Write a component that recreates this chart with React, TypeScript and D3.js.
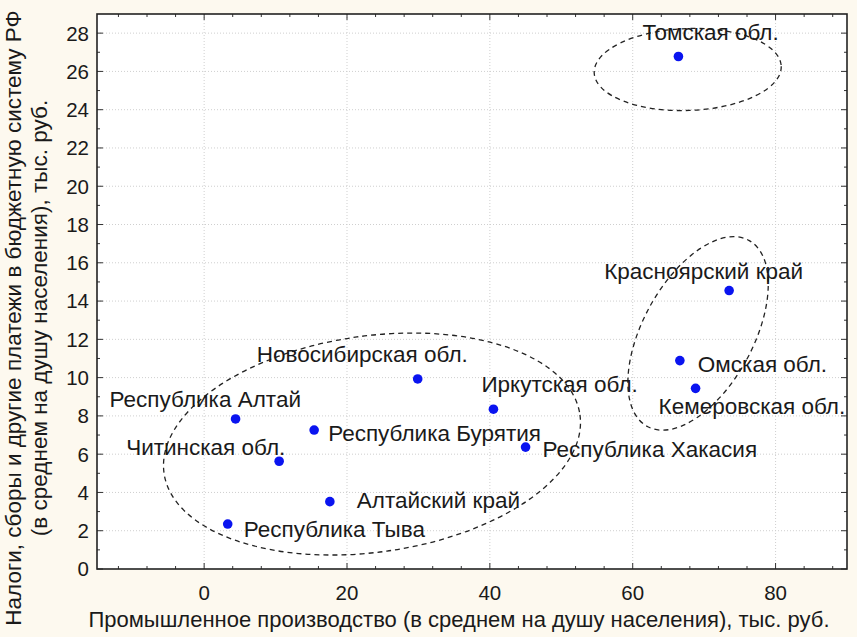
import { useEffect, useRef } from 'react'
import * as d3 from 'd3'

// regions of Siberian federal district
const regions = [
  'Томская обл.',
  'Красноярский край',
  'Омская обл.',
  'Кемеровская обл.',
  'Новосибирская обл.',
  'Иркутская обл.',
  'Республика Алтай',
  'Республика Бурятия',
  'Республика Хакасия',
  'Читинская обл.',
  'Алтайский край',
  'Республика Тыва',
]
// industrial production per capita, thousand rub.
const production = [66.4, 73.5, 66.6, 68.8, 29.9, 40.5, 4.4, 15.4, 45.0, 10.5, 17.6, 3.3]
// taxes per capita, thousand rub.
const taxes = [26.78, 14.55, 10.89, 9.44, 9.93, 8.35, 7.84, 7.26, 6.37, 5.63, 3.52, 2.35]

// label offset from its point, px [dx, dy to baseline]
const labelOffsets: [number, number][] = [
  [-36, -16], [-125, -12], [18, 11], [-37, 26], [-161, -17], [-12, -17],
  [-126, -12], [14, 11], [17, 10], [-153, -6], [27, 6], [16, 13],
]

const xTicks = [0, 20, 40, 60, 80]
const yTicks = [0, 2, 4, 6, 8, 10, 12, 14, 16, 18, 20, 22, 24, 26, 28]

// cluster outlines: centre and semi-axes in data units, rotation in degrees
const clusters = [
  { cx: 23.5, cy: 6.53, rx: 29.4, ry: 5.65, angle: -8 },
  { cx: 67.7, cy: 26.1, rx: 13.1, ry: 2.14, angle: -2 },
  { cx: 69.15, cy: 12.31, rx: 7.73, ry: 5.54, angle: 28.6 },
]

const W = 857
const H = 637
const font = '"Liberation Sans", Arial, sans-serif'

export default function App() {
  const ref = useRef<SVGSVGElement>(null)

  useEffect(() => {
    const margin = { top: 14, right: 10, bottom: 68, left: 97 }
    const width = W - margin.left - margin.right
    const height = H - margin.top - margin.bottom

    const root = d3.select(ref.current)
    root.selectAll('*').remove()

    root.append('rect')
      .attr('width', W).attr('height', H)
      .attr('fill', '#fdf9ef')

    const svg = root.append('g')
      .attr('transform', `translate(${margin.left},${margin.top})`)

    const x = d3.scaleLinear().domain([-15, 90]).range([0, width])
    const y = d3.scaleLinear().domain([0, 29]).range([height, 0])

    svg.append('rect')
      .attr('width', width).attr('height', height)
      .attr('fill', '#fff')

    // grid
    svg.selectAll('.gx')
      .data(xTicks)
      .join('line')
      .attr('x1', d => x(d)).attr('x2', d => x(d))
      .attr('y1', 0).attr('y2', height)
      .attr('stroke', '#cfcfcf')
      .attr('stroke-dasharray', '1,2')
    svg.selectAll('.gy')
      .data(yTicks.filter(d => d > 0))
      .join('line')
      .attr('x1', 0).attr('x2', width)
      .attr('y1', d => y(d)).attr('y2', d => y(d))
      .attr('stroke', '#cfcfcf')
      .attr('stroke-dasharray', '1,2')

    // ticks on all four sides, pointing inward
    const xMinor = d3.range(-12, 90, 4).filter(d => !xTicks.includes(d))
    const yMinor = d3.range(1, 29, 1).filter(d => !yTicks.includes(d))
    const tickCol = '#333'
    const xt = [...xTicks.map(d => ({ v: d, l: 6 })), ...xMinor.map(d => ({ v: d, l: 3 }))]
    const yt = [...yTicks.map(d => ({ v: d, l: 6 })), ...yMinor.map(d => ({ v: d, l: 3 }))]
    svg.selectAll('.tb')
      .data(xt).join('line')
      .attr('x1', d => x(d.v)).attr('x2', d => x(d.v))
      .attr('y1', height).attr('y2', d => height - d.l)
      .attr('stroke', tickCol)
    svg.selectAll('.tt')
      .data(xt).join('line')
      .attr('x1', d => x(d.v)).attr('x2', d => x(d.v))
      .attr('y1', 0).attr('y2', d => d.l)
      .attr('stroke', tickCol)
    svg.selectAll('.tl')
      .data(yt).join('line')
      .attr('x1', 0).attr('x2', d => d.l)
      .attr('y1', d => y(d.v)).attr('y2', d => y(d.v))
      .attr('stroke', tickCol)
    svg.selectAll('.tr')
      .data(yt).join('line')
      .attr('x1', width).attr('x2', d => width - d.l)
      .attr('y1', d => y(d.v)).attr('y2', d => y(d.v))
      .attr('stroke', tickCol)

    // frame
    svg.append('rect')
      .attr('width', width).attr('height', height)
      .attr('fill', 'none')
      .attr('stroke', '#222')
      .attr('stroke-width', 1.6)

    // tick labels
    svg.selectAll('.xl')
      .data(xTicks).join('text')
      .attr('x', d => x(d))
      .attr('y', height + 31)
      .attr('text-anchor', 'middle')
      .attr('font-family', font)
      .attr('font-size', 20.5)
      .attr('fill', '#1a1a1a')
      .text(d => d)
    svg.selectAll('.yl')
      .data(yTicks).join('text')
      .attr('x', -8)
      .attr('y', d => y(d))
      .attr('dy', '0.36em')
      .attr('text-anchor', 'end')
      .attr('font-family', font)
      .attr('font-size', 20.5)
      .attr('fill', '#1a1a1a')
      .text(d => d)

    // cluster ellipses
    svg.selectAll('.cl')
      .data(clusters).join('ellipse')
      .attr('transform', d => `translate(${x(d.cx)},${y(d.cy)}) rotate(${d.angle})`)
      .attr('rx', d => x(d.cx + d.rx) - x(d.cx))
      .attr('ry', d => y(d.cy) - y(d.cy + d.ry))
      .attr('fill', 'none')
      .attr('stroke', '#222')
      .attr('stroke-width', 1.3)
      .attr('stroke-dasharray', '5,4')

    const pts = regions.map((name, i) => ({ name, px: production[i], ty: taxes[i], off: labelOffsets[i] }))

    // points
    svg.selectAll('.pt')
      .data(pts).join('circle')
      .attr('cx', d => x(d.px))
      .attr('cy', d => y(d.ty))
      .attr('r', 4.8)
      .attr('fill', '#0a14f0')

    // point labels
    svg.selectAll('.lb')
      .data(pts).join('text')
      .attr('x', d => x(d.px) + d.off[0])
      .attr('y', d => y(d.ty) + d.off[1])
      .attr('font-family', font)
      .attr('font-size', 22.5)
      .attr('fill', '#1a1a1a')
      .text(d => d.name)

    // axis titles
    root.append('text')
      .attr('x', 459)
      .attr('y', 627)
      .attr('text-anchor', 'middle')
      .attr('font-family', font)
      .attr('font-size', 22)
      .attr('fill', '#1a1a1a')
      .text('Промышленное производство (в среднем на душу населения), тыс. руб.')

    const yt1 = root.append('text')
      .attr('transform', 'translate(0,318) rotate(-90)')
      .attr('text-anchor', 'middle')
      .attr('font-family', font)
      .attr('font-size', 22.5)
      .attr('fill', '#1a1a1a')
    yt1.append('tspan').attr('x', 0).attr('y', 21)
      .text('Налоги, сборы и другие платежи в бюджетную систему РФ')
    yt1.append('tspan').attr('x', 0).attr('y', 47)
      .text('(в среднем на душу населения), тыс. руб.')
  }, [])

  return (
    <svg ref={ref} width={W} height={H} style={{ position: 'absolute', left: 0, top: 0 }} />
  )
}
